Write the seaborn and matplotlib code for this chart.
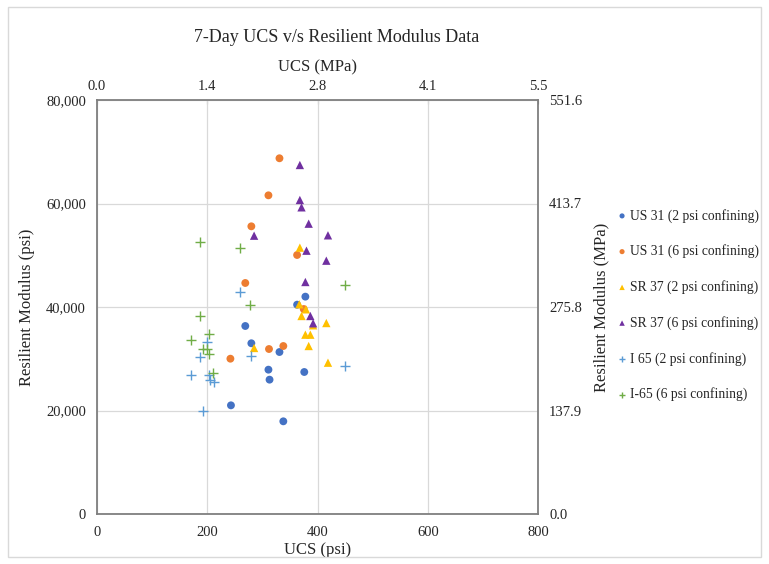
import matplotlib
matplotlib.use("Agg")
import matplotlib.pyplot as plt
import seaborn as sns
from matplotlib.patches import Rectangle
from matplotlib.ticker import FuncFormatter

# ---------- DATA ----------
us31_2_x = [378, 363, 269, 280, 331, 311, 313, 376, 243, 338]
us31_2_y = [42000, 40450, 36330, 32990, 31300, 27890, 25960, 27440, 21000, 17910]

us31_6_x = [331, 311, 280, 363, 269, 375, 242, 312, 338]
us31_6_y = [68740, 61580, 55590, 50050, 44640, 39610, 30010, 31880, 32460]

sr37_2_x = [368, 367, 379, 371, 392, 416, 378, 387, 384, 285, 419]
sr37_2_y = [51470, 40520, 39550, 38260, 36460, 36900, 34650, 34650, 32460, 32080, 29240]

sr37_6_x = [368, 368, 371, 384, 285, 419, 380, 416, 378, 387, 392]
sr37_6_y = [67440, 60680, 59260, 56100, 53780, 53850, 50880, 48950, 44830, 38260, 36850]

i65_2_x = [259, 200, 187, 279, 171, 204, 205, 212, 193, 450]
i65_2_y = [42830, 33240, 30400, 30470, 26800, 26800, 25890, 25450, 19960, 28600]

i65_6_x = [187, 259, 278, 187, 204, 171, 193, 199, 204, 211, 450]
i65_6_y = [52500, 51400, 40330, 38260, 34840, 33620, 31940, 31940, 30970, 27150, 44250]

series_names = ["US 31 (2 psi confining)", "US 31 (6 psi confining)",
                "SR 37 (2 psi confining)", "SR 37 (6 psi confining)",
                "I 65 (2 psi confining)", "I-65 (6 psi confining)"]
x_values = [us31_2_x, us31_6_x, sr37_2_x, sr37_6_x, i65_2_x, i65_6_x]
y_values = [us31_2_y, us31_6_y, sr37_2_y, sr37_6_y, i65_2_y, i65_6_y]

x_ticks = [0, 200, 400, 600, 800]
y_ticks = [0, 20000, 40000, 60000, 80000]
PSI_TO_MPA = 0.006895
# ---------------------------------------------------

colors = ["#4472C4", "#ED7D31", "#FFC000", "#7030A0", "#5B9BD5", "#70AD47"]
markers = ["o", "o", "^", "^", "+", "+"]
sizes = [32, 32, 36, 36, 42, 42]

sns.set_style("white")
plt.rcParams["font.family"] = ["Liberation Serif", "DejaVu Serif"]

fig = plt.figure(figsize=(7.69, 5.64), dpi=100)
ax = fig.add_axes([97 / 769, 1 - 514 / 564, (538 - 97) / 769, (514 - 100) / 564])

for name, xs, ys, c, m, s in zip(series_names, x_values, y_values, colors, markers, sizes):
    if m == "+":
        sns.scatterplot(x=xs, y=ys, ax=ax, marker=m, color=c, s=s,
                        linewidth=1.0, label=name, zorder=3)
    else:
        sns.scatterplot(x=xs, y=ys, ax=ax, marker=m, color=c, s=s,
                        edgecolor="none", label=name, zorder=3)

ax.set_xlim(0, 800)
ax.set_ylim(0, 80000)
ax.set_xticks(x_ticks)
ax.set_yticks(y_ticks)
ax.yaxis.set_major_formatter(FuncFormatter(lambda v, p: f"{v:,.0f}"))
ax.grid(True, color="#D9D9D9", linewidth=0.9, zorder=0)
ax.set_axisbelow(True)
for sp in ax.spines.values():
    sp.set_color("#7F7F7F")
    sp.set_linewidth(1.3)
ax.tick_params(axis="x", direction="in", length=3, color="#7F7F7F", labelsize=10.5, pad=9)
ax.tick_params(axis="y", length=0, labelsize=10.5, pad=8)
ax.set_xlabel("UCS (psi)", fontsize=12, labelpad=2)
ax.set_ylabel("Resilient Modulus (psi)", fontsize=12)
ax.yaxis.set_label_coords((35 - 97) / 441, 0.5)

top = ax.secondary_xaxis("top", functions=(lambda v: v * PSI_TO_MPA, lambda v: v / PSI_TO_MPA))
top.set_xticks([t * PSI_TO_MPA for t in x_ticks])
top.xaxis.set_major_formatter(FuncFormatter(lambda v, p: f"{v:.1f}"))
top.tick_params(direction="in", length=3, color="#7F7F7F", labelsize=10.5, pad=5)
top.set_xlabel("UCS (MPa)", fontsize=12, labelpad=6)
top.spines["top"].set_visible(False)

right = ax.secondary_yaxis("right", functions=(lambda v: v * PSI_TO_MPA, lambda v: v / PSI_TO_MPA))
right.set_yticks([t * PSI_TO_MPA for t in y_ticks])
right.yaxis.set_major_formatter(FuncFormatter(lambda v, p: f"{v:.1f}"))
right.tick_params(length=0, labelsize=10.5, pad=8)
right.set_ylabel("Resilient Modulus (MPa)", fontsize=12, labelpad=8)
right.spines["right"].set_visible(False)

fig.suptitle("7-Day UCS v/s Resilient Modulus Data", x=337 / 769, y=1 - 29 / 564,
             fontsize=13, va="top")

ax.legend(loc="center left", bbox_to_anchor=(603 / 769, 1 - 305 / 564),
          bbox_transform=fig.transFigure, frameon=False, fontsize=9.8,
          labelspacing=1.6, handletextpad=0.05, markerscale=0.65, handlelength=1.0)

fig.patches.append(Rectangle((8 / 769, 7 / 564), 753 / 769, 550 / 564,
                             transform=fig.transFigure, fill=False,
                             edgecolor="#D9D9D9", linewidth=1.0))

plt.savefig("out.png", dpi=100)
